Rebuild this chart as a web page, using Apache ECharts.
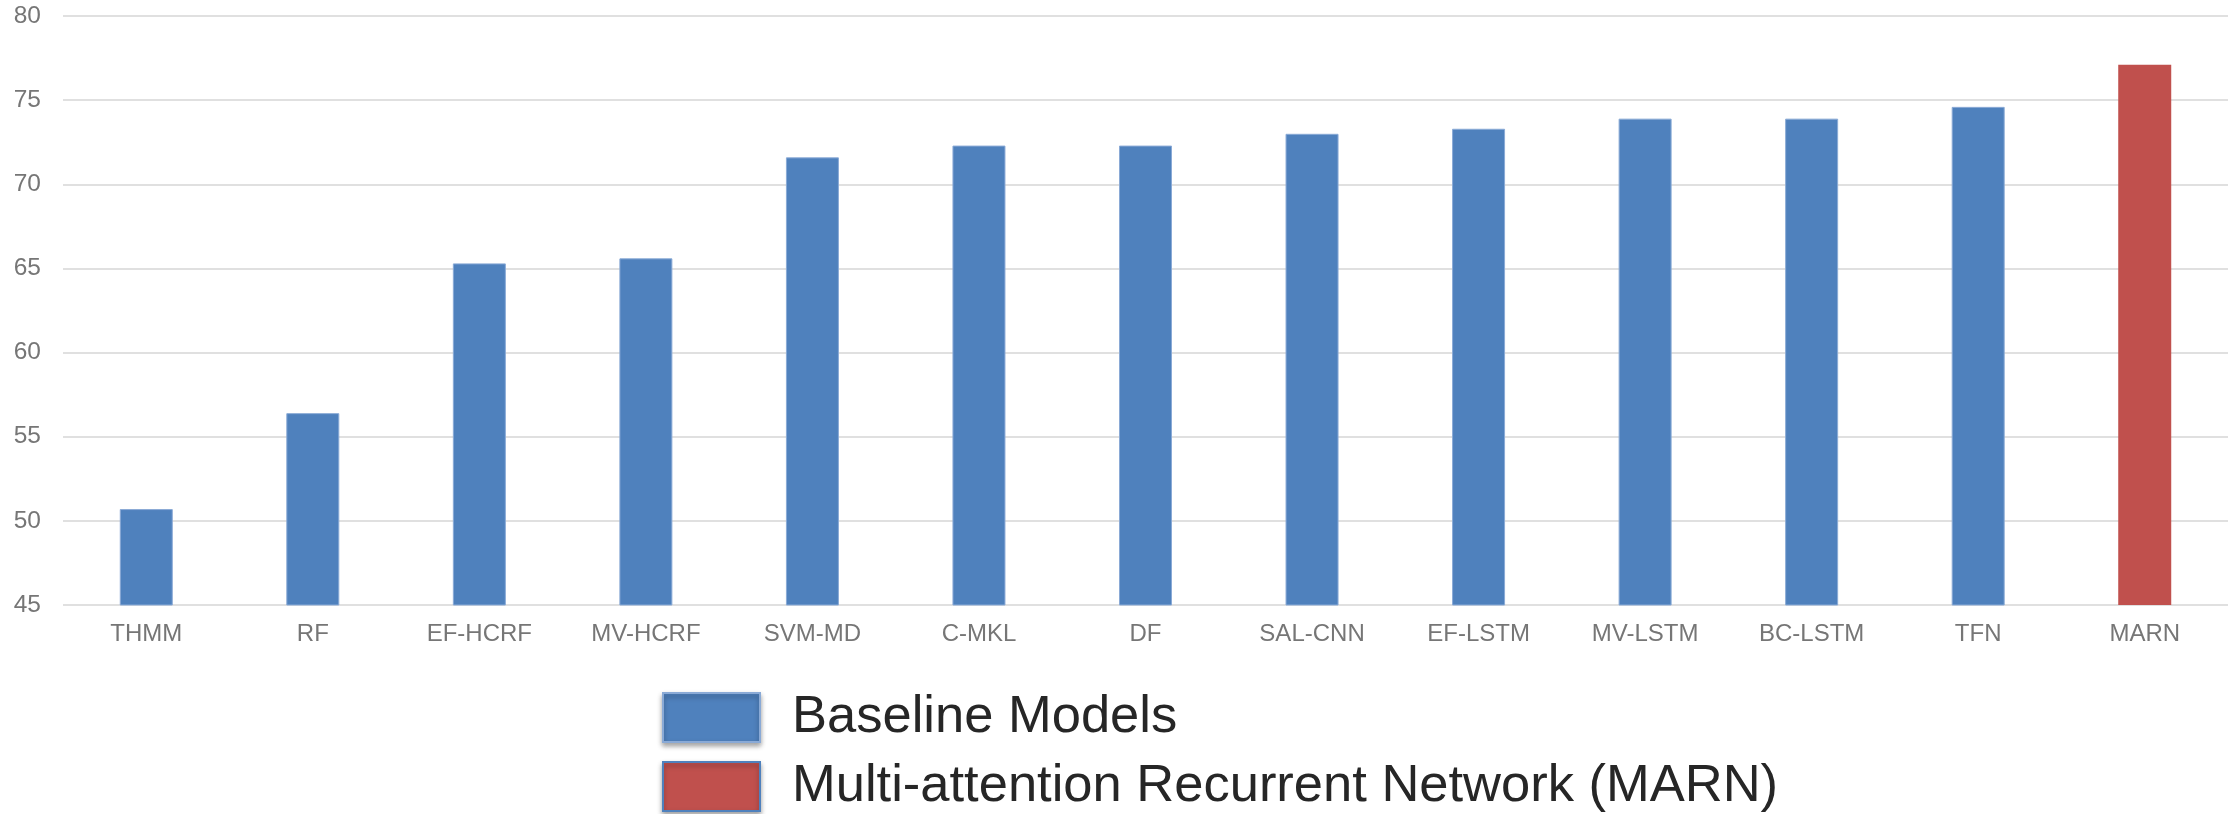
<!DOCTYPE html>
<html>
<head>
<meta charset="utf-8">
<script src="https://cdn.jsdelivr.net/npm/echarts@6/dist/echarts.min.js"></script>
<style>
html,body{margin:0;padding:0;background:#fff;}
#chart{width:2234px;height:814px;}
</style>
</head>
<body>
<div id="chart"></div>
<script>
const categories = ['THMM','RF','EF-HCRF','MV-HCRF','SVM-MD','C-MKL','DF','SAL-CNN','EF-LSTM','MV-LSTM','BC-LSTM','TFN','MARN'];
const baselineValues = [50.7, 56.4, 65.3, 65.6, 71.6, 72.3, 72.3, 73.0, 73.3, 73.9, 73.9, 74.6, null];
const marnValues = [null, null, null, null, null, null, null, null, null, null, null, null, 77.1];
const seriesNames = ['Baseline Models', 'Multi-attention Recurrent Network (MARN)'];
const yTicks = {min: 45, max: 80, interval: 5};

const FONT = '"Liberation Sans", Helvetica, Arial, sans-serif';
const legendBase = {
  orient: 'vertical',
  left: 662,
  itemWidth: 97,
  itemHeight: 49,
  icon: 'rect',
  selectedMode: false,
  padding: 0,
  textStyle: {fontFamily: FONT, fontSize: 52.5, color: '#262626', padding: [0, 0, 0, 27]}
};
const chart = echarts.init(document.getElementById('chart'), null, {renderer: 'canvas'});
chart.setOption({
  animation: false,
  backgroundColor: '#ffffff',
  grid: {left: 63, right: 6, top: 16, bottom: 209, containLabel: false},
  legend: [
    Object.assign({}, legendBase, {
      top: 691,
      data: [{name: seriesNames[0], itemStyle: {color: '#4F81BD', shadowBlur: 5, shadowColor: 'rgba(0,0,0,0.35)', shadowOffsetY: 3}}]
    }),
    Object.assign({}, legendBase, {
      top: 760,
      data: [{name: seriesNames[1], itemStyle: {color: '#C0504D', borderColor: '#4F81BD', borderWidth: 2, shadowBlur: 5, shadowColor: 'rgba(0,0,0,0.35)', shadowOffsetY: 3}}]
    })
  ],
  xAxis: {
    type: 'category',
    data: categories,
    axisLine: {show: false},
    axisTick: {show: false},
    axisLabel: {fontFamily: FONT, fontSize: 24, color: '#767676', margin: 17, interval: 0}
  },
  yAxis: {
    type: 'value',
    min: yTicks.min,
    max: yTicks.max,
    interval: yTicks.interval,
    axisLine: {show: false},
    axisTick: {show: false},
    axisLabel: {fontFamily: FONT, fontSize: 24.5, color: '#767676', margin: 22},
    splitLine: {lineStyle: {color: '#e0e0e0', width: 2}}
  },
  series: [
    {
      name: seriesNames[0],
      type: 'bar',
      data: baselineValues,
      barWidth: 53,
      barGap: '-100%',
      itemStyle: {color: '#4F81BD', borderColor: '#8aaad6', borderWidth: 1}
    },
    {
      name: seriesNames[1],
      type: 'bar',
      data: marnValues,
      barWidth: 53,
      barGap: '-100%',
      itemStyle: {color: '#C0504D'}
    }
  ]
});
</script>
</body>
</html>
